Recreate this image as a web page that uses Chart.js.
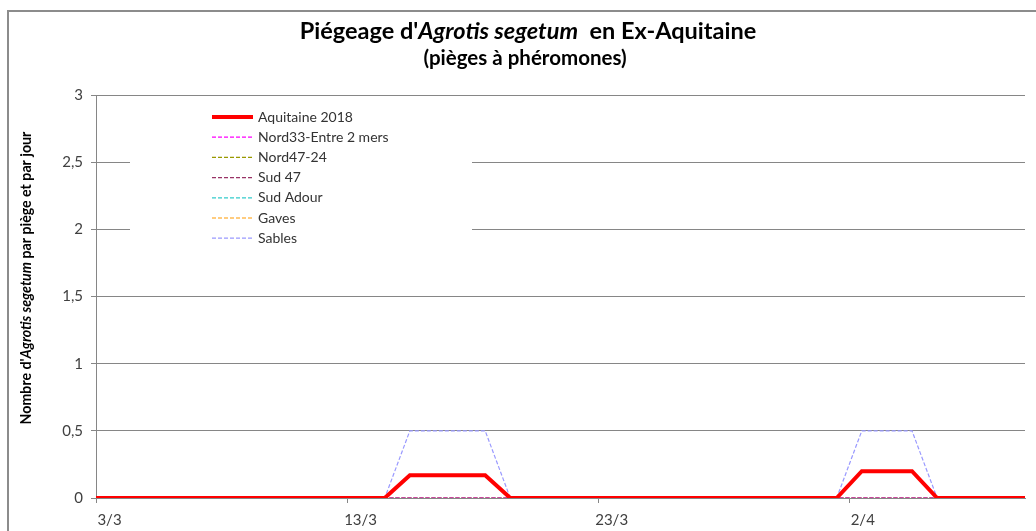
<!DOCTYPE html>
<html>
<head>
<meta charset="utf-8">
<script src="https://cdn.jsdelivr.net/npm/chart.js@4"></script>
<style>
body { margin: 0; background: #fff; }
#wrap { position: relative; width: 1036px; height: 531px; overflow: hidden; }
#frame { position: absolute; left: 7px; top: 10px; width: 1100px; height: 600px; border-top: 2px solid #8c8c8c; border-left: 2px solid #8c8c8c; }
canvas { position: absolute; left: 0; top: 0; }
</style>
</head>
<body>
<div id="wrap"><div id="frame"></div><canvas id="c" width="1036" height="531"></canvas></div>
<script>
// dates of the readings (d/m, 2018)
const dates = ['2/3','3/3','4/3','5/3','6/3','7/3','8/3','9/3','10/3','11/3','12/3','13/3','14/3',
  '15/3','16/3','17/3','18/3','19/3','20/3','21/3','22/3','23/3','24/3','25/3','26/3','27/3',
  '28/3','29/3','30/3','31/3','1/4','2/4','3/4','4/4','5/4','6/4','7/4','8/4','9/4']

const aquitaine = [0,0,0,0,0,0,0,0,0,0,0,0,0, 0.17,0.17,0.17,0.17, 0,0,0,0,0,0,0,0,0,0,0,0,0,0, 0.2,0.2,0.2, 0,0,0,0,0]
const nord33 = [0,0,0,0,0,0,0,0,0,0,0,0,0, 0,0,0,0, 0,0,0,0,0,0,0,0,0,0,0,0,0,0, 0,0,0, 0,0,0,0,0]
const nord4724 = [0,0,0,0,0,0,0,0,0,0,0,0,0, 0,0,0,0, 0,0,0,0,0,0,0,0,0,0,0,0,0,0, 0,0,0, 0,0,0,0,0]
const sud47 = [0,0,0,0,0,0,0,0,0,0,0,0,0, 0,0,0,0, 0,0,0,0,0,0,0,0,0,0,0,0,0,0, 0,0,0, 0,0,0,0,0]
const sudAdour = [0,0,0,0,0,0,0,0,0,0,0,0,0, 0,0,0,0, 0,0,0,0,0,0,0,0,0,0,0,0,0,0, 0,0,0, 0,0,0,0,0]
const gaves = [0,0,0,0,0,0,0,0,0,0,0,0,0, 0,0,0,0, 0,0,0,0,0,0,0,0,0,0,0,0,0,0, 0,0,0, 0,0,0,0,0]
const sables = [0,0,0,0,0,0,0,0,0,0,0,0,0, 0.5,0.5,0.5,0.5, 0,0,0,0,0,0,0,0,0,0,0,0,0,0, 0.5,0.5,0.5, 0,0,0,0,0]

const tickLabels = ['3/3','13/3','23/3','2/4']
const yTicks = [0, 0.5, 1, 1.5, 2, 2.5, 3]

const FONT = 'Lato, "Open Sans", sans-serif'

// days counted from 3 March
const dayNum = s => {
  const [d, m] = s.split('/').map(Number)
  return (m === 3 ? d : 31 + d) - 3
}
const toPoints = arr => arr.map((v, i) => ({ x: dayNum(dates[i]), y: v }))

const series = [
  { label: 'Aquitaine 2018', data: aquitaine, color: '#ff0000', width: 4, dash: [] },
  { label: 'Nord33-Entre 2 mers', data: nord33, color: '#ff00ff', width: 1.2, dash: [4, 2] },
  { label: 'Nord47-24', data: nord4724, color: '#999900', width: 1.2, dash: [4, 2] },
  { label: 'Sud 47', data: sud47, color: '#993366', width: 1.2, dash: [4, 2] },
  { label: 'Sud Adour', data: sudAdour, color: '#33cccc', width: 1.2, dash: [4, 2] },
  { label: 'Gaves', data: gaves, color: '#ff9900', width: 1.2, dash: [4, 2] },
  { label: 'Sables', data: sables, color: '#9999ff', width: 1.2, dash: [4, 2] }
]

// draws text made of plain / italic pieces, centred on (cx, cy)
function richText(ctx, parts, size, cx, cy, angle) {
  ctx.save()
  ctx.translate(cx, cy)
  ctx.rotate(angle || 0)
  ctx.fillStyle = '#000'
  ctx.textBaseline = 'middle'
  ctx.textAlign = 'left'
  const fontOf = p => (p.i ? 'italic ' : '') + 'bold ' + size + 'px ' + FONT
  let total = 0
  parts.forEach(p => { ctx.font = fontOf(p); total += ctx.measureText(p.t).width })
  let x = -total / 2
  parts.forEach(p => {
    ctx.font = fontOf(p)
    ctx.fillText(p.t, x, 0)
    x += ctx.measureText(p.t).width
  })
  ctx.restore()
}

const decor = {
  id: 'decor',
  beforeDatasetsDraw(chart) {
    // white legend box hides the grid lines behind it
    const ctx = chart.ctx
    ctx.save()
    ctx.fillStyle = '#fff'
    ctx.fillRect(130, 103, 342, 146)
    ctx.restore()
  },
  afterDraw(chart) {
    const ctx = chart.ctx
    richText(ctx, [{ t: "Piégeage d'" }, { t: 'Agrotis segetum', i: true }, { t: '  en Ex-Aquitaine' }], 23.5, 528, 31)
    richText(ctx, [{ t: '(pièges à phéromones)' }], 20.5, 525, 58)
    richText(ctx, [{ t: "Nombre d'" }, { t: 'Agrotis segetum', i: true }, { t: ' par piège et par jour' }], 14.2, 26, 278, -Math.PI / 2)

    // legend
    ctx.save()
    chart.data.datasets.forEach((ds, i) => {
      const y = 117 + i * 20.2
      ctx.strokeStyle = ds.borderColor
      ctx.lineWidth = ds.borderWidth
      ctx.setLineDash(ds.borderDash)
      ctx.beginPath()
      ctx.moveTo(212, y)
      ctx.lineTo(253, y)
      ctx.stroke()
      ctx.setLineDash([])
      ctx.fillStyle = '#333'
      ctx.font = '14px ' + FONT
      ctx.textBaseline = 'middle'
      ctx.fillText(ds.label, 258, y)
    })
    ctx.restore()
  }
}

new Chart(document.getElementById('c'), {
  type: 'line',
  data: {
    datasets: series.map(s => ({
      label: s.label,
      data: toPoints(s.data),
      borderColor: s.color,
      backgroundColor: s.color,
      borderWidth: s.width,
      borderDash: s.dash,
      pointRadius: 0,
      tension: 0
    }))
  },
  options: {
    responsive: false,
    animation: false,
    devicePixelRatio: 1,
    layout: { padding: { top: 95, right: 11, left: 0, bottom: 0 } },
    plugins: { legend: { display: false }, tooltip: { enabled: false } },
    scales: {
      x: {
        type: 'linear',
        min: -0.5,
        max: 36.5,
        afterBuildTicks: axis => {
          axis.ticks = tickLabels.map(l => ({ value: dayNum(l) - 0.5 }))
        },
        afterFit: axis => { axis.height = 33 },
        border: { color: '#868686' },
        grid: { drawOnChartArea: false, color: '#868686', tickLength: 5 },
        ticks: {
          labelOffset: 13.5,
          padding: 8,
          color: '#404040',
          font: { family: FONT, size: 15 },
          maxRotation: 0,
          callback: v => tickLabels.find(l => dayNum(l) - 0.5 === v)
        }
      },
      y: {
        min: 0,
        max: 3,
        afterBuildTicks: axis => { axis.ticks = yTicks.map(v => ({ value: v })) },
        afterFit: axis => { axis.width = 96 },
        border: { color: '#868686' },
        grid: { color: '#868686', tickLength: 5 },
        ticks: {
          padding: 8,
          color: '#404040',
          font: { family: FONT, size: 15 },
          callback: v => String(v).replace('.', ',')
        }
      }
    }
  },
  plugins: [decor]
})
</script>
</body>
</html>
